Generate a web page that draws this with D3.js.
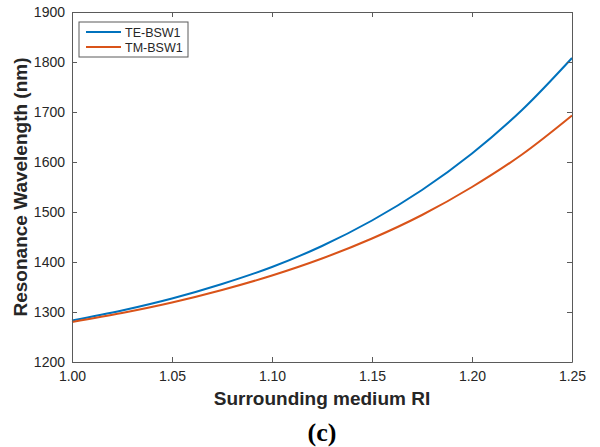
<!DOCTYPE html>
<html>
<head>
<meta charset="utf-8">
<script src="https://cdn.jsdelivr.net/npm/d3@7"></script>
<style>
  body { margin: 0; background: #fff; }
  svg { display: block; }
  text { font-family: Arial, "Liberation Sans", Helvetica, sans-serif; }
</style>
</head>
<body>
<svg id="chart" width="600" height="447"></svg>
<script>
// Refractive index of the surrounding medium
const ri = [1.000, 1.025, 1.050, 1.075, 1.100, 1.125, 1.150, 1.175, 1.200, 1.225, 1.250];
// Resonance wavelengths (nm) of the two Bloch surface wave modes
const teBSW1 = [1283, 1303, 1327, 1356, 1390, 1432, 1483, 1544, 1617, 1704, 1808];
const tmBSW1 = [1280, 1298, 1319, 1344, 1373, 1407, 1447, 1494, 1550, 1615, 1693];
const seriesNames = ["TE-BSW1", "TM-BSW1"];
const seriesColors = ["#0072BD", "#D95319"];
const xTicks = [1.00, 1.05, 1.10, 1.15, 1.20, 1.25];
const yTicks = [1200, 1300, 1400, 1500, 1600, 1700, 1800, 1900];

const FONT = "Arial, 'Liberation Sans', Helvetica, sans-serif";
const svg = d3.select("#chart");
const m = { left: 72, right: 28, top: 12, bottom: 85 };
const W = 600, H = 447;
const x = d3.scaleLinear().domain([1.0, 1.25]).range([m.left, W - m.right]);
const y = d3.scaleLinear().domain([1200, 1900]).range([H - m.bottom, m.top]);
const axisColor = "#5a5a5a";
const textColor = "#262626";

// Curves
const series = [teBSW1, tmBSW1];
const line = d3.line().x((d, i) => x(ri[i])).y(d => y(d)).curve(d3.curveCatmullRom.alpha(0.5));
series.forEach((s, k) => {
  svg.append("path").datum(s)
    .attr("d", line)
    .attr("fill", "none")
    .attr("stroke", seriesColors[k])
    .attr("stroke-width", 2);
});

// Axes (box with inward ticks on all sides)
function styleAxis(g, labels) {
  g.attr("font-family", FONT);
  g.select(".domain").attr("stroke", axisColor).attr("stroke-width", 1);
  g.selectAll(".tick line").attr("stroke", axisColor);
  g.selectAll(".tick text")
    .attr("fill", textColor)
    .style("font-size", "14px")
    .style("font-family", FONT);
  if (!labels) g.selectAll(".tick text").remove();
}
const axBottom = svg.append("g").attr("transform", `translate(0,${H - m.bottom})`)
  .call(d3.axisBottom(x).tickValues(xTicks).tickFormat(d3.format(".2f")).tickSizeInner(-5).tickSizeOuter(0).tickPadding(9));
styleAxis(axBottom, true);
const axTop = svg.append("g").attr("transform", `translate(0,${m.top})`)
  .call(d3.axisTop(x).tickValues(xTicks).tickSizeInner(-5).tickSizeOuter(0));
styleAxis(axTop, false);
const axLeft = svg.append("g").attr("transform", `translate(${m.left},0)`)
  .call(d3.axisLeft(y).tickValues(yTicks).tickFormat(d3.format("d")).tickSizeInner(-5).tickSizeOuter(0).tickPadding(7));
styleAxis(axLeft, true);
const axRight = svg.append("g").attr("transform", `translate(${W - m.right},0)`)
  .call(d3.axisRight(y).tickValues(yTicks).tickSizeInner(-5).tickSizeOuter(0));
styleAxis(axRight, false);

// Axis titles
svg.append("text")
  .attr("x", (m.left + W - m.right) / 2).attr("y", 405)
  .attr("text-anchor", "middle")
  .attr("fill", textColor)
  .style("font-family", FONT)
  .style("font-size", "19px").style("font-weight", "bold")
  .text("Surrounding medium RI");
svg.append("text")
  .attr("transform", `translate(27,${(m.top + H - m.bottom) / 2}) rotate(-90)`)
  .attr("text-anchor", "middle")
  .attr("fill", textColor)
  .style("font-family", FONT)
  .style("font-size", "19px").style("font-weight", "bold")
  .text("Resonance Wavelength (nm)");

// Panel label
svg.append("text")
  .attr("x", (m.left + W - m.right) / 2).attr("y", 441)
  .attr("text-anchor", "middle")
  .attr("fill", "#000")
  .style("font-family", "'Times New Roman', 'Liberation Serif', serif")
  .style("font-size", "26px").style("font-weight", "bold")
  .text("(c)");

// Legend
const lg = svg.append("g").attr("transform", "translate(79,22)");
lg.append("rect").attr("width", 109).attr("height", 35)
  .attr("fill", "#fff").attr("stroke", axisColor).attr("stroke-width", 1);
seriesNames.forEach((name, k) => {
  const yy = 10 + k * 15;
  lg.append("line").attr("x1", 7).attr("x2", 42).attr("y1", yy).attr("y2", yy)
    .attr("stroke", seriesColors[k]).attr("stroke-width", 2);
  lg.append("text").attr("x", 46).attr("y", yy + 4.5)
    .attr("fill", textColor)
    .style("font-family", FONT)
    .style("font-size", "12.5px").text(name);
});
</script>
</body>
</html>
